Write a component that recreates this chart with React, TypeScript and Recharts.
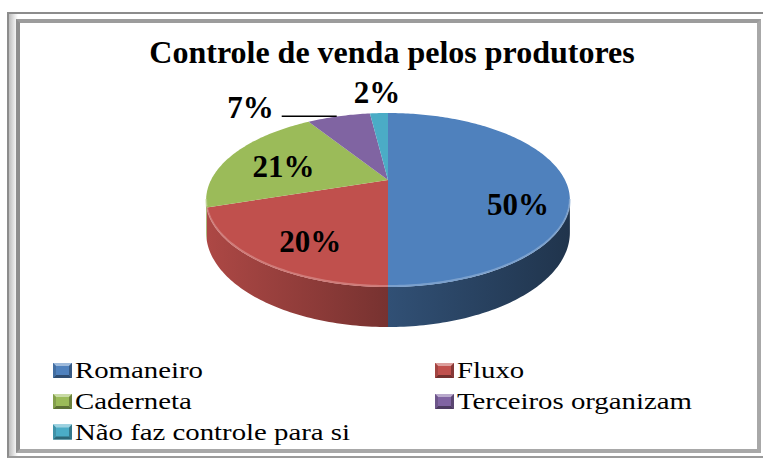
import React from 'react';
import { PieChart, Pie, Cell, Legend } from 'recharts';

const categories = ['Romaneiro', 'Fluxo', 'Caderneta', 'Terceiros organizam', 'Não faz controle para si'];
const values = [50, 20, 21, 7, 2];
const colors = ['#4F81BD', '#C0504D', '#9BBB59', '#8064A2', '#4BACC6'];
const chartTitle = 'Controle de venda pelos produtores';

const data = categories.map((name, i) => ({ name, value: values[i] }));

const RAD = Math.PI / 180;
const K = 0.23; // perspective strength
const TILT = 0.4655; // vertical squash of the top face
const DEPTH = 0.174; // thickness relative to radius
const SIL = Math.asin(K) / RAD;
const SERIF = "'Liberation Serif', 'Times New Roman', serif";

const hexToRgb = (h: string) => [
  parseInt(h.slice(1, 3), 16),
  parseInt(h.slice(3, 5), 16),
  parseInt(h.slice(5, 7), 16),
];
const mix = (h: string, f: number, target = 0) => {
  const c = hexToRgb(h).map((v) => Math.round(v * f + target * (1 - f)));
  return `rgb(${c.join(',')})`;
};

type P = { x: number; y: number; w: number };
const proj = (cx: number, cy: number, R: number, a: number, r = 1): P => {
  const u = r * Math.cos(a * RAD);
  const v = -r * Math.sin(a * RAD);
  const w = 1 - K * v;
  return { x: cx + (R * u) / w, y: cy + (R * TILT * v) / w, w };
};
const arc = (cx: number, cy: number, R: number, from: number, to: number): P[] => {
  const n = Math.max(2, Math.ceil(Math.abs(from - to)));
  const pts: P[] = [];
  for (let i = 0; i <= n; i++) pts.push(proj(cx, cy, R, from + ((to - from) * i) / n));
  return pts;
};
const f2 = (n: number) => n.toFixed(2);
const line = (pts: { x: number; y: number }[]) => pts.map((p) => `${f2(p.x)},${f2(p.y)}`).join('L');

const textStyle = { fontFamily: SERIF };

const renderSlice = (props: any) => {
  const { cx, cy, outerRadius, startAngle, endAngle, midAngle, index, percent } = props;
  const R = outerRadius;
  const hi = Math.max(startAngle, endAngle);
  const lo = Math.min(startAngle, endAngle);
  const base = colors[index];
  const topPts = arc(cx, cy, R, hi, lo);
  const topPath = `M${f2(cx)},${f2(cy)}L${line(topPts)}Z`;
  const sHi = Math.min(hi, -SIL);
  const sLo = Math.max(lo, -180 + SIL);
  const D = R * DEPTH;
  let side: React.ReactNode = null;
  let edge: React.ReactNode = null;
  if (sHi > sLo) {
    const up = arc(cx, cy, R, sHi, sLo);
    const down = up
      .slice()
      .reverse()
      .map((p) => ({ x: p.x, y: p.y + D / p.w }));
    side = <path d={`M${line(up)}L${line(down)}Z`} fill={`url(#side-${index})`} />;
    edge = (
      <path
        d={`M${line(up.map((p) => ({ x: p.x, y: p.y - 1 })))}`}
        fill="none"
        stroke={mix(base, 0.55, 255)}
        strokeWidth={2}
        strokeOpacity={0.55}
      />
    );
  }

  const fontProps = { style: textStyle, fontWeight: 'bold' as const, fontSize: 31, fill: '#000' };
  const label = `${values[index]}%`;
  let text: React.ReactNode;
  if (percent >= 0.1) {
    const p = proj(cx, cy, R, midAngle, 0.7);
    const x = p.x + 6;
    const y = p.y + 14 + 10 * Math.cos(midAngle * RAD);
    text = (
      <text x={x} y={y + 10.5} textAnchor="middle" {...fontProps}>
        {label}
      </text>
    );
  } else if (percent >= 0.05) {
    const e = proj(cx, cy, R, midAngle, 1);
    text = (
      <g>
        <line x1={e.x - 2} y1={e.y} x2={e.x - 57} y2={e.y} stroke="#000" strokeWidth={1.5} />
        <text x={e.x - 65} y={e.y + 2} textAnchor="end" {...fontProps}>
          {label}
        </text>
      </g>
    );
  } else {
    const e = proj(cx, cy, R, midAngle, 1);
    text = (
      <text x={e.x - 2} y={e.y - 10} textAnchor="middle" {...fontProps}>
        {label}
      </text>
    );
  }

  return (
    <g key={`slice-${index}`}>
      <defs>
        <linearGradient
          id={`side-${index}`}
          gradientUnits="userSpaceOnUse"
          x1={cx - R * 1.03}
          y1={0}
          x2={cx + R * 1.03}
          y2={0}
        >
          <stop offset="0" stopColor={mix(base, 0.9)} />
          <stop offset="0.5" stopColor={mix(base, 0.62)} />
          <stop offset="1" stopColor={mix(base, 0.4)} />
        </linearGradient>
      </defs>
      {side}
      <path d={topPath} fill={base} />
      {edge}
      {text}
    </g>
  );
};

const legendCols = [53, 435];
const legendRows = [26, 57, 87.5];

const renderLegend = () => (
  <svg width={763} height={106} style={{ display: 'block' }}>
    {categories.map((name, i) => {
      const c = colors[i];
      const x = legendCols[i % 2];
      const b = legendRows[Math.floor(i / 2)];
      const w = 19;
      const h = 15;
      const y = b - h;
      const t = 3;
      return (
        <g key={name}>
          <rect x={x} y={y} width={w} height={h} fill={c} />
          <polygon points={`${x},${y} ${x + w},${y} ${x + w - t},${y + t} ${x + t},${y + t}`} fill={mix(c, 0.55, 255)} />
          <polygon points={`${x},${y + h} ${x + w},${y + h} ${x + w - t},${y + h - t} ${x + t},${y + h - t}`} fill={mix(c, 0.6)} />
          <polygon points={`${x},${y} ${x + t},${y + t} ${x + t},${y + h - t} ${x},${y + h}`} fill={mix(c, 0.85)} />
          <polygon points={`${x + w},${y} ${x + w - t},${y + t} ${x + w - t},${y + h - t} ${x + w},${y + h}`} fill={mix(c, 0.7)} />
          <text transform={`translate(${x + 22},${b}) scale(1.2,1)`} style={textStyle} fontSize={24} fill="#000">
            {name}
          </text>
        </g>
      );
    })}
  </svg>
);

export default function App() {
  return (
    <div style={{ position: 'absolute', left: 0, top: 0, width: 763, height: 458, background: '#fff', overflow: 'hidden' }}>
      <div
        style={{
          position: 'absolute',
          left: 7,
          top: 12,
          width: 760,
          height: 446,
          boxSizing: 'border-box',
          borderTop: '2px solid #8c8c8c',
          borderLeft: '2px solid #8c8c8c',
          borderBottom: '2px solid #9a9a9a',
          background: 'linear-gradient(to right, #bdbdbd, #ececec 6px, #ffffff 9px)',
        }}
      />
      <div
        style={{
          position: 'absolute',
          left: 16,
          top: 19,
          width: 745,
          height: 434,
          boxSizing: 'border-box',
          borderStyle: 'solid',
          borderWidth: 4,
          borderColor: '#9c9c9c #a8a8a8 #a8a8a8 #8e8e8e',
          background: '#fff',
        }}
      />
      <div
        style={{
          position: 'absolute',
          left: 0,
          top: 36,
          width: 784,
          textAlign: 'center',
          fontFamily: SERIF,
          fontWeight: 'bold',
          fontSize: 32,
          lineHeight: '32px',
          color: '#000',
          whiteSpace: 'nowrap',
        }}
      >
        {chartTitle}
      </div>
      <div style={{ position: 'absolute', left: 0, top: 0 }}>
        <PieChart width={763} height={458} margin={{ top: 0, right: 0, bottom: 0, left: 0 }}>
          <Pie
            data={data}
            dataKey="value"
            nameKey="name"
            cx={388}
            cy={180}
            outerRadius={177}
            startAngle={90}
            endAngle={-270}
            stroke="none"
            fillOpacity={0}
            isAnimationActive={false}
            label={renderSlice}
            labelLine={false}
          >
            {data.map((d, i) => (
              <Cell key={d.name} fill={colors[i]} fillOpacity={0} stroke="none" />
            ))}
          </Pie>
          <Legend
            content={renderLegend}
            wrapperStyle={{ position: 'absolute', left: 0, top: 352, width: 763, height: 106 }}
          />
        </PieChart>
      </div>
    </div>
  );
}
